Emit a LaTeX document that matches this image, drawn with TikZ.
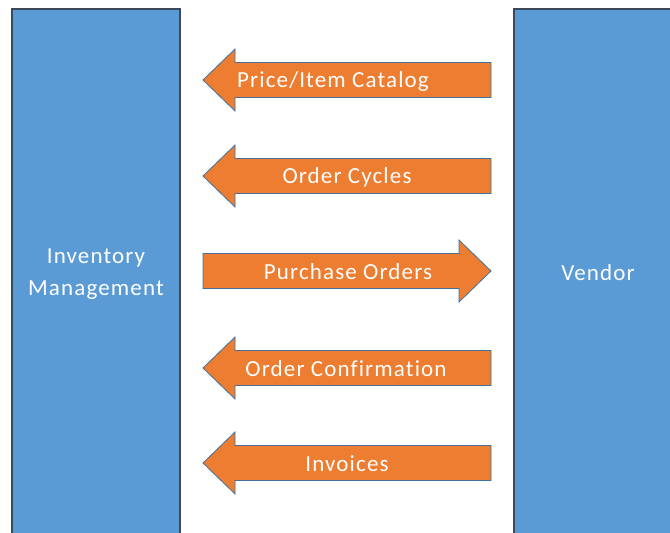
\documentclass[tikz,border=0pt]{standalone}
\usepackage{fontspec}
\setmainfont{Carlito}[LetterSpace=5,Ligatures=NoCommon]
\definecolor{boxblue}{HTML}{5B9BD5}
\definecolor{boxedge}{HTML}{3A4A5C}
\definecolor{arrorange}{HTML}{ED7D31}
\definecolor{arredge}{HTML}{41719C}
\begin{document}
\begin{tikzpicture}[x=1pt,y=-1pt,
  bigbox/.style={fill=boxblue,draw=boxedge,line width=1.6pt},
  blockarrow/.style={fill=arrorange,draw=arredge,line width=0.8pt,line join=miter},
  lbl/.style={text=white,font=\fontsize{23}{32}\selectfont,inner sep=0pt,align=center}]
\useasboundingbox (0,0) rectangle (670,533);
\begin{scope}
\clip (0,0) rectangle (670,533);
\draw[bigbox] (12,9) rectangle (180,545);
\draw[bigbox] (514,9) rectangle (690,545);
% arrows: left-pointing
\foreach \c in {80,176,368,463}{
  \draw[blockarrow] (203,\c) -- (235,\c-31) -- (235,\c-17.5) -- (491,\c-17.5)
     -- (491,\c+17.5) -- (235,\c+17.5) -- (235,\c+31) -- cycle;
}
% right-pointing
\draw[blockarrow] (491,271) -- (459,240) -- (459,253.5) -- (203,253.5)
     -- (203,288.5) -- (459,288.5) -- (459,302) -- cycle;
\end{scope}
\node[lbl] (inv) at (96,274) {Inventory\\Management};
\node[lbl] (ven) at (598,273) {Vendor};
\node[lbl] (cat) at (333,81) {Price/Item Catalog};
\node[lbl] (cyc) at (347,177) {Order Cycles};
\node[lbl] (po) at (348,272) {Purchase Orders};
\node[lbl] (conf) at (346,369) {Order Confirmation};
\node[lbl] (invc) at (347,464) {Invoices};
\end{tikzpicture}
\end{document}
